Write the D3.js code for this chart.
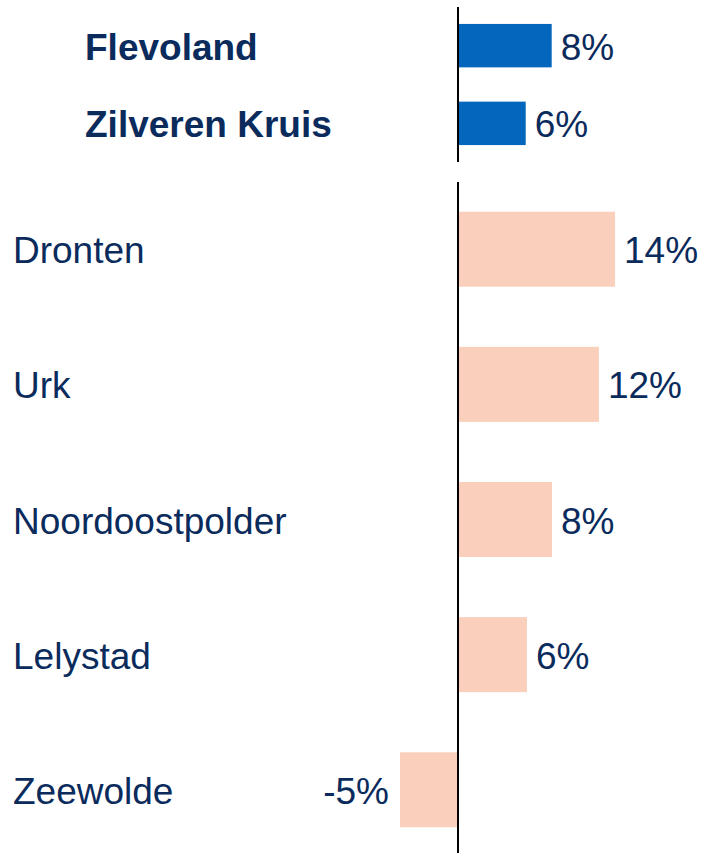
<!DOCTYPE html>
<html>
<head>
<meta charset="utf-8">
<script src="https://cdn.jsdelivr.net/npm/d3@7"></script>
<style>
  html, body { margin: 0; padding: 0; background: #fff; }
  svg { display: block; }
  text { font-family: "Liberation Sans", Arial, sans-serif; }
</style>
</head>
<body>
<svg id="chart" width="705" height="853"></svg>
<script>
// ---- data ----
const topCategories = ["Flevoland", "Zilveren Kruis"];
const topValues = [8.06, 5.8];
const topLabels = ["8%", "6%"];

const bottomCategories = ["Dronten", "Urk", "Noordoostpolder", "Lelystad", "Zeewolde"];
const bottomValues = [13.57, 12.17, 8.09, 5.91, -5.13];
const bottomLabels = ["14%", "12%", "8%", "6%", "-5%"];

// ---- styles ----
const navy = "#0a2b5c";
const blue = "#0467bd";
const salmon = "#facfbb";
const fontSize = 37;

const svg = d3.select("#chart");

const x = d3.scaleLinear().domain([-10, 20]).range([459 - 115, 459 + 230]);

function panel(cats, vals, labels, yRange, pi, po, fill, bold, labelX, lineY) {
  const data = cats.map((c, i) => ({ c, v: vals[i], l: labels[i] }));
  const y = d3.scaleBand().domain(cats).range(yRange).paddingInner(pi).paddingOuter(po);
  const g = svg.append("g");

  g.selectAll("rect").data(data).join("rect")
    .attr("x", d => x(Math.min(0, d.v)))
    .attr("width", d => Math.abs(x(d.v) - x(0)))
    .attr("y", d => y(d.c))
    .attr("height", y.bandwidth())
    .attr("fill", fill);

  g.selectAll("text.cat").data(data).join("text")
    .attr("class", "cat")
    .attr("x", labelX)
    .attr("y", d => y(d.c) + y.bandwidth() / 2 + 14)
    .attr("font-size", fontSize)
    .attr("font-weight", bold ? "bold" : "normal")
    .attr("fill", navy)
    .text(d => d.c);

  g.selectAll("text.val").data(data).join("text")
    .attr("class", "val")
    .attr("x", d => d.v >= 0 ? x(d.v) + 9 : x(d.v) - 11)
    .attr("text-anchor", d => d.v >= 0 ? "start" : "end")
    .attr("y", d => y(d.c) + y.bandwidth() / 2 + 14)
    .attr("font-size", fontSize)
    .attr("fill", navy)
    .text(d => d.l);

  g.append("line")
    .attr("x1", x(0) - 1).attr("x2", x(0) - 1)
    .attr("y1", lineY[0]).attr("y2", lineY[1])
    .attr("stroke", "#000").attr("stroke-width", 2);
}

panel(topCategories, topValues, topLabels, [7, 162], 0.441, 0.218, blue, true, 85, [7, 162]);
panel(bottomCategories, bottomValues, bottomLabels, [182, 857], 0.445, 0.22, salmon, false, 13, [182, 853]);
</script>
</body>
</html>
